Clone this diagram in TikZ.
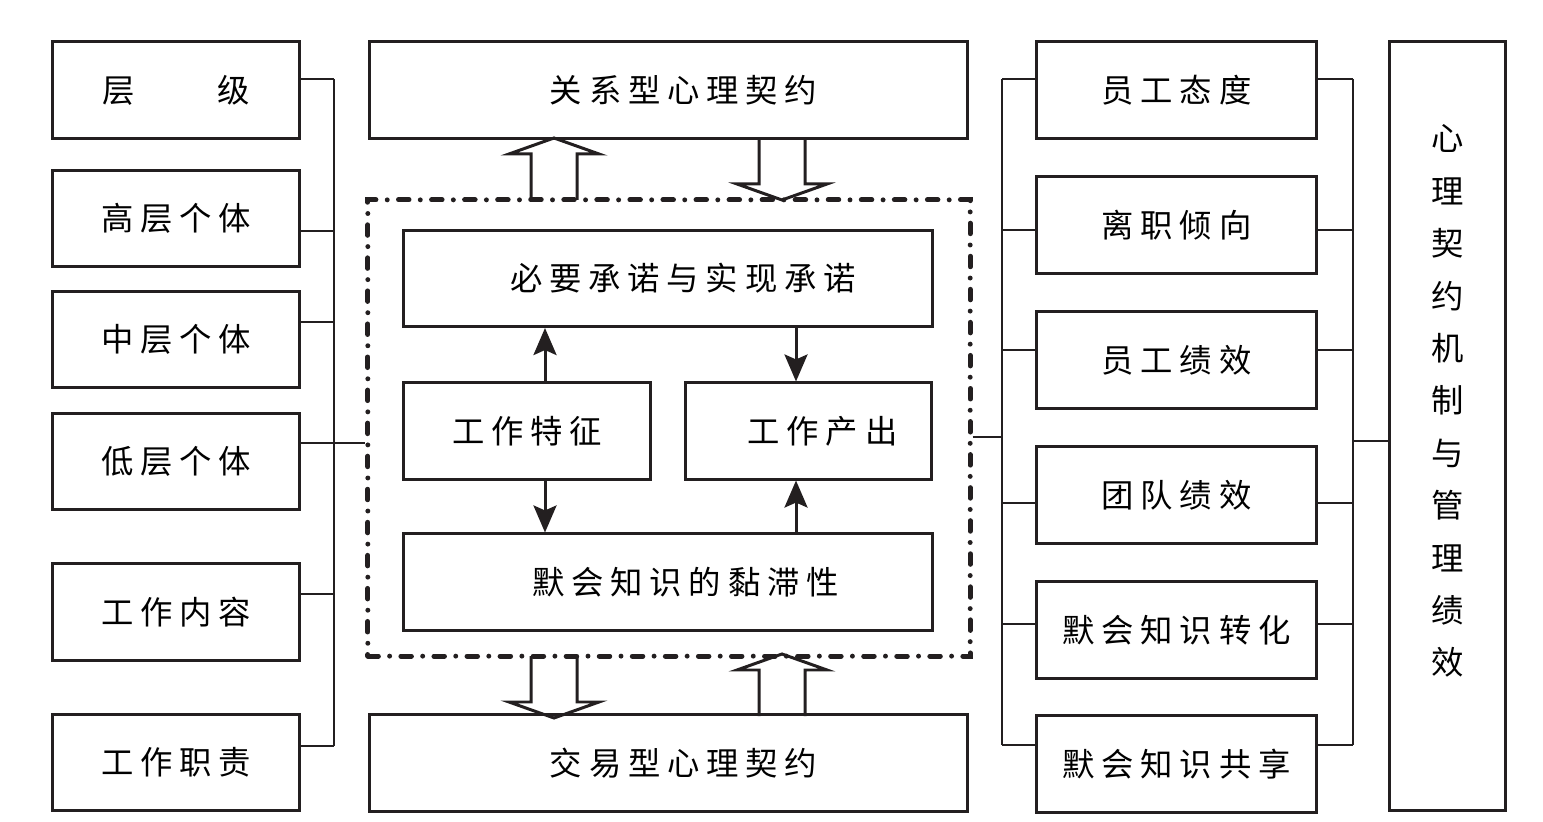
\documentclass[tikz,border=0pt]{standalone}
\usepackage{fontspec}
\usetikzlibrary{arrows.meta}
\newfontfamily\cjk[LetterSpace=21]{Noto Sans CJK SC}
\definecolor{ink}{HTML}{231F20}

\begin{document}
\begin{tikzpicture}[x=0.01cm,y=-0.01cm,
  box/.style={draw=ink,line width=0.85pt,inner sep=0pt,minimum height=0.96cm,
              font=\cjk\fontsize{9.2}{11}\selectfont},
  side/.style={box,minimum width=2.46cm},
  outc/.style={box,minimum width=2.79cm},
  wide/.style={box,minimum width=5.97cm},
  core/.style={draw=ink,line width=1.4pt,line cap=round,
               dash pattern=on 3pt off 3.2pt on 0pt off 3.2pt,minimum width=6.02cm,minimum height=4.56cm},
  link/.style={draw=ink,line width=0.8pt},
  arr/.style={-{Stealth[length=2.7mm,width=2.3mm,inset=0.5mm]},line width=0.85pt,color=ink},
  fat/.pic={\draw[ink,line width=0.85pt,line join=miter]
              (-23,0) -- (-23,-46) -- (-45,-46) -- (0,-62) -- (45,-46) -- (23,-46) -- (23,0);}]
  \useasboundingbox (0,0) rectangle (1543,822);

  % left column
  \node[side] (lv1) at (176,90)    {层\hspace{0.83cm}级};
  \node[side] (lv2) at (176,218.5) {高层个体};
  \node[side] (lv3) at (176,339.5) {中层个体};
  \node[side] (lv4) at (176,461.5) {低层个体};
  \node[side] (lv5) at (176,612)   {工作内容};
  \node[side] (lv6) at (176,762.5) {工作职责};

  % middle
  \node[wide] (rel) at (668.5,90)  {\hspace{0.3cm}关系型心理契约};
  \node[wide] (tra) at (668.5,763) {\hspace{0.3cm}交易型心理契约};
  \node[core] (mid) at (669,428) {};
  \node[box,minimum width=5.28cm] (need) at (668,278.5) {\hspace{0.3cm}必要承诺与实现承诺};
  \node[side] (feat) at (527,431)   {工作特征};
  \node[side] (outp) at (808.5,431) {\hspace{0.28cm}工作产出};
  \node[box,minimum width=5.28cm] (stick) at (668,582) {\hspace{0.35cm}默会知识的黏滞性};

  % right column
  \node[outc] (rv1) at (1176.5,90)  {员工态度};
  \node[outc] (rv2) at (1176.5,225) {离职倾向};
  \node[outc] (rv3) at (1176.5,360) {员工绩效};
  \node[outc] (rv4) at (1176.5,495) {团队绩效};
  \node[outc] (rv5) at (1176.5,630) {默会知识转化};
  \node[outc] (rv6) at (1176.5,764) {默会知识共享};
  \node[box,minimum width=1.15cm,minimum height=7.68cm,align=center,
        font=\cjk\fontsize{9.2}{14.9}\selectfont] (perf) at (1447.5,426)
        {心\\理\\契\\约\\机\\制\\与\\管\\理\\绩\\效\\\mbox{}};

  % inner arrows
  \draw[arr] (feat.north -| 545,0) -- (need.south -| 545,0);
  \draw[arr] (need.south -| 796,0) -- (outp.north -| 796,0);
  \draw[arr] (feat.south -| 545,0) -- (stick.north -| 545,0);
  \draw[arr] (stick.north -| 796,0) -- (outp.south -| 796,0);

  % block arrows
  \pic at (554,200) {fat};
  \pic[yscale=-1] at (782,138) {fat};
  \pic[yscale=-1] at (554,656) {fat};
  \pic at (782,716) {fat};

  % left bracket
  \coordinate (lb) at (334,0);
  \foreach \n/\y in {lv1/79,lv2/231,lv3/322,lv5/594,lv6/746}
    \draw[link] (\n.east |- 0,\y) -- (lb |- 0,\y);
  \draw[link] (lb |- 0,79) -- (lb |- 0,746);
  \draw[link] (lv4.east |- 0,443) -- (mid.west |- 0,443);

  % right brackets
  \coordinate (rb) at (1002,0);
  \coordinate (qb) at (1353,0);
  \foreach \n/\y in {rv1/79,rv2/230,rv3/350,rv4/503,rv5/624,rv6/745}{
    \draw[link] (\n.west |- 0,\y) -- (rb |- 0,\y);
    \draw[link] (\n.east |- 0,\y) -- (qb |- 0,\y);}
  \draw[link] (rb |- 0,79) -- (rb |- 0,745);
  \draw[link] (qb |- 0,79) -- (qb |- 0,745);
  \draw[link] (mid.east |- 0,437) -- (rb |- 0,437);
  \draw[link] (qb |- 0,441) -- (perf.west |- 0,441);
\end{tikzpicture}
\end{document}
